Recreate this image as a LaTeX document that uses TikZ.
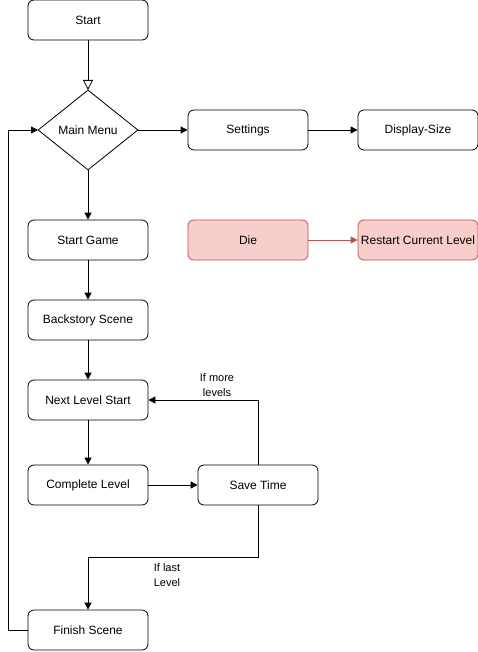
\documentclass[tikz,border=0pt]{standalone}
\usepackage{fontspec}
\setmainfont{Liberation Sans}
\usetikzlibrary{shapes.geometric,arrows.meta}
\definecolor{redfill}{HTML}{F8CECC}
\definecolor{redline}{HTML}{B85450}
\begin{document}
\begin{tikzpicture}[x=1pt,y=-1pt,
  every node/.style={font=\fontsize{12}{14}\selectfont, inner sep=0pt},
  box/.style={draw, rounded corners=6pt, minimum width=120pt, minimum height=40pt, line width=0.8pt, fill=white},
  redbox/.style={box, fill=redfill, draw=redline},
  dec/.style={draw, diamond, aspect=1.25, minimum width=100pt, minimum height=80pt, line width=0.8pt},
  conn/.style={line width=0.8pt, -{Triangle[length=7pt,width=7pt]}},
  openconn/.style={line width=0.8pt, -{Triangle[open,length=10pt,width=10pt]}},
  lbl/.style={align=center, font=\fontsize{11}{15}\selectfont}
]
\useasboundingbox (0,0) rectangle (478,652);
\node[box] (start) at (88,20) {Start};
\node[draw, line width=0.8pt, shape=diamond, minimum width=100pt, minimum height=80pt, aspect=1.25, inner sep=0pt] (menu) at (88,130) {};
\node at (88,130) {Main Menu};
\node[box] (settings) at (248,130) {Settings};
\node[box] (display) at (418,130) {Display-Size};
\node[box] (sgame) at (88,240) {Start Game};
\node[redbox] (die) at (248,240) {Die};
\node[redbox] (restart) at (418,240) {Restart Current Level};
\node[box] (back) at (88,320) {Backstory Scene};
\node[box] (next) at (88,400) {Next Level Start};
\node[box] (complete) at (88,485) {Complete Level};
\node[box] (save) at (258,485) {Save Time};
\node[box] (finish) at (88,630) {Finish Scene};

\coordinate (menuL) at (38,130);
\coordinate (menuR) at (138,130);
\coordinate (menuB) at (88,170);
\coordinate (menuT) at (88,90);

\draw[openconn] (start.south) -- (menuT);
\draw[conn] (menuR) -- (settings.west);
\draw[conn] (settings.east) -- (display.west);
\draw[conn] (menuB) -- (sgame.north);
\draw[conn, draw=redline, fill=redline] (die.east) -- (restart.west);
\draw[conn] (sgame.south) -- (back.north);
\draw[conn] (back.south) -- (next.north);
\draw[conn] (next.south) -- (complete.north);
\draw[conn] (complete.east) -- (save.west);
\draw[conn] (save.north) |- (next.east);
\draw[conn] (save.south) -- (258,557) -| (finish.north);
\draw[conn] (finish.west) -| (8,130) -- (menuL);

\node[lbl] (lmore) at (217,385) {If more\\levels};
\node[lbl] (llast) at (167,575) {If last\\Level};
\end{tikzpicture}
\end{document}
